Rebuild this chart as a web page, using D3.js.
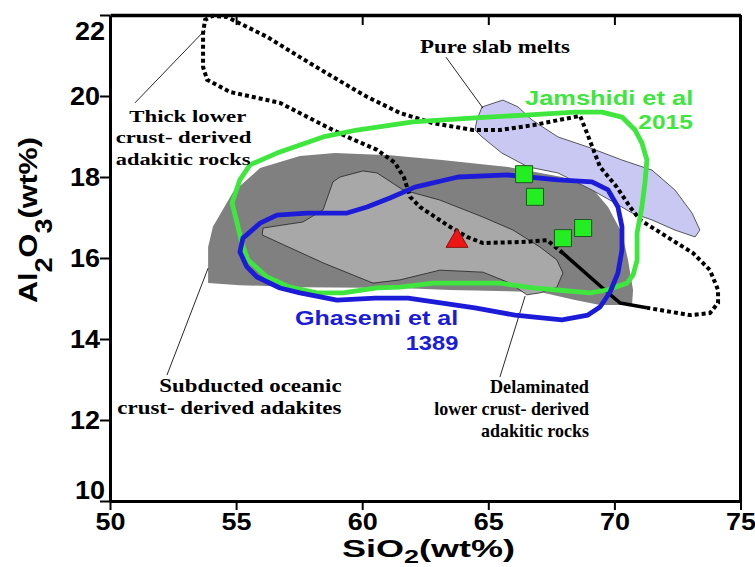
<!DOCTYPE html>
<html>
<head>
<meta charset="utf-8">
<script src="https://cdn.jsdelivr.net/npm/d3@7"></script>
<style>
  html, body { margin: 0; padding: 0; background: #fff; }
  svg { display: block; }
</style>
</head>
<body>
<svg id="chart" width="755" height="567"></svg>
<script>
// SiO2 vs Al2O3 discrimination fields for adakitic rocks (wt%)

const xTicks = [50, 55, 60, 65, 70, 75];
const yTicks = [10, 12, 14, 16, 18, 20, 22];

// Subducted oceanic crust-derived adakites (dark grey field)
const subductedField = [[53.89,15.38],[53.89,16.27],[54.08,16.77],[54.88,17.63],[55.95,18.22],[57.53,18.52],[58.92,18.59],[61.10,18.54],[63.16,18.42],[65.78,18.25],[67.92,18.0],[69.11,17.73],[69.75,17.26],[70.30,16.62],[70.54,15.95],[70.74,15.21],[70.70,14.84],[69.43,14.84],[68.44,14.96],[67.05,15.16],[63.48,15.21],[61.50,15.26],[57.53,15.28],[55.15,15.33]];

// Delaminated lower crust-derived adakitic rocks (light grey field)
const delaminatedField = [[56.03,16.57],[56.07,16.74],[57.65,16.89],[58.45,17.19],[58.84,17.88],[59.12,18.0],[60.03,18.15],[60.59,18.10],[61.62,17.68],[63.08,17.43],[64.79,17.01],[65.98,16.69],[67.05,16.27],[67.72,15.95],[67.96,15.63],[67.72,15.28],[67.05,15.14],[66.53,15.09],[65.86,15.38],[64.79,15.65],[63.08,15.70],[61.50,15.46],[60.43,15.38],[58.45,15.88]];

// Pure slab melts (lavender field)
const slabMeltField = [[64.75,19.73],[65.58,19.90],[66.18,19.73],[66.73,19.41],[67.76,18.99],[68.95,18.74],[70.30,18.42],[71.49,18.17],[72.40,17.68],[73.08,17.11],[73.39,16.69],[73.20,16.52],[72.40,16.69],[71.49,16.94],[70.70,17.11],[70.02,17.36],[69.11,17.68],[67.76,18.10],[66.57,18.25],[65.54,18.59],[64.75,18.99],[64.47,19.16],[64.55,19.41]];

// Thick lower crust-derived adakitic rocks: dotted outline and its solid closing segment
const thickCrustDotted = [[67.96,16.12],[67.33,16.44],[66.53,16.40],[64.79,16.37],[64.16,16.52],[63.48,16.77],[62.29,17.26],[61.90,17.51],[61.66,17.98],[61.30,18.35],[60.59,18.67],[59.52,18.96],[58.84,19.16],[56.74,19.83],[54.76,20.10],[53.85,20.40],[53.69,20.72],[53.69,21.56],[53.77,21.88],[54.08,21.98],[54.64,21.95],[56.23,21.46],[57.53,20.96],[58.84,20.47],[60.19,19.98],[61.50,19.58],[62.81,19.33],[64.39,19.16],[65.46,19.16],[66.77,19.28],[68.64,19.51],[68.91,19.09],[69.43,18.25],[70.10,17.75],[70.62,17.26],[71.02,16.94],[72.09,16.52],[73.12,16.12],[73.79,15.70],[74.11,15.21],[74.11,14.89],[73.79,14.64],[73.0,14.59],[71.29,14.77]];
const thickCrustSolid = [[67.96,16.12],[69.71,15.16],[70.22,14.89],[71.29,14.77]];

// Jamshidi et al (2015) outline
const jamshidiOutline = [[55.55,18.30],[56.62,18.59],[58.45,18.99],[59.79,19.16],[62.01,19.36],[64.47,19.46],[66.46,19.53],[68.44,19.60],[69.51,19.60],[70.30,19.48],[70.82,19.16],[71.09,18.84],[71.29,18.42],[71.21,17.85],[71.09,17.26],[70.90,16.62],[70.90,15.95],[70.74,15.58],[70.50,15.38],[69.71,15.21],[69.03,15.14],[67.72,15.21],[66.77,15.26],[65.46,15.38],[64.16,15.38],[62.81,15.38],[61.50,15.28],[60.59,15.26],[59.24,15.14],[58.21,15.14],[57.14,15.28],[56.23,15.53],[55.47,15.95],[55.23,16.37],[55.04,16.86],[54.84,17.36],[55.15,17.93]];

// Ghasemi et al (1389) outline
const ghasemiOutline = [[56.62,17.06],[57.81,17.11],[59.40,17.11],[60.19,17.26],[61.10,17.48],[62.09,17.75],[63.80,18.0],[65.78,18.05],[67.76,17.93],[69.11,17.88],[69.75,17.68],[70.14,17.26],[70.30,16.77],[70.30,16.20],[70.14,15.63],[69.83,15.16],[69.43,14.79],[68.95,14.59],[67.92,14.47],[66.06,14.59],[64.47,14.77],[61.82,15.01],[60.51,15.01],[59.0,14.96],[57.53,15.14],[56.74,15.26],[55.83,15.53],[55.43,15.78],[55.15,16.15],[55.27,16.49],[55.95,16.86]];

// Samples
const squareSamples = [[66.42,18.07],[66.85,17.51],[67.96,16.49],[68.76,16.74]];
const triangleSamples = [[63.76,16.42]];

// Leader lines from field labels to their fields [from, to]
const leaders = [
  [[50.99,19.83],[53.77,21.63]],
  [[63.32,20.96],[64.79,19.70]],
  [[52.26,13.11],[53.89,15.75]],
  [[65.46,13.06],[66.46,15.06]]
];

const SERIF = '"Liberation Serif","Times New Roman",serif';
const SANS = '"Liberation Sans",Arial,sans-serif';
const GREEN = '#3ee63e';
const BLUE = '#1c1cd8';

const svg = d3.select('#chart');
svg.append('rect').attr('width', 755).attr('height', 567).attr('fill', '#fff');

const x = d3.scaleLinear().domain([50, 75]).range([110, 740.5]);
const y = d3.scaleLinear().domain([10, 22]).range([501, 15]);

const line = d3.line().x(d => x(d[0])).y(d => y(d[1]));
const closed = d3.line().x(d => x(d[0])).y(d => y(d[1])).curve(d3.curveLinearClosed);

const plot = svg.append('g');

plot.append('path').attr('d', closed(subductedField)).attr('fill', '#808080');
plot.append('path').attr('d', closed(delaminatedField)).attr('fill', '#a8a8a8')
  .attr('stroke', '#222').attr('stroke-width', 0.8);
plot.append('path').attr('d', closed(slabMeltField)).attr('fill', '#c8c8f2')
  .attr('stroke', '#333').attr('stroke-width', 0.8);

// leader lines
plot.selectAll('line.leader').data(leaders).join('line')
  .attr('class', 'leader')
  .attr('x1', d => x(d[0][0])).attr('y1', d => y(d[0][1]))
  .attr('x2', d => x(d[1][0])).attr('y2', d => y(d[1][1]))
  .attr('stroke', '#111').attr('stroke-width', 0.9);

plot.append('path').attr('d', line(thickCrustDotted)).attr('fill', 'none')
  .attr('stroke', '#000').attr('stroke-width', 4).attr('stroke-dasharray', '4,3');
plot.append('path').attr('d', line(thickCrustSolid)).attr('fill', 'none')
  .attr('stroke', '#000').attr('stroke-width', 3.5).attr('stroke-linejoin', 'round');

plot.append('path').attr('d', closed(jamshidiOutline)).attr('fill', 'none')
  .attr('stroke', GREEN).attr('stroke-width', 4.8).attr('stroke-linejoin', 'round');
plot.append('path').attr('d', closed(ghasemiOutline)).attr('fill', 'none')
  .attr('stroke', BLUE).attr('stroke-width', 4.8).attr('stroke-linejoin', 'round');

// sample symbols
plot.selectAll('path.sq').data(squareSamples).join('path')
  .attr('class', 'sq')
  .attr('d', d3.symbol(d3.symbolSquare, 290)())
  .attr('transform', d => `translate(${x(d[0])},${y(d[1])})`)
  .attr('fill', '#22ee22').attr('stroke', '#225522').attr('stroke-width', 1);
plot.selectAll('path.tri').data(triangleSamples).join('path')
  .attr('class', 'tri')
  .attr('d', d3.symbol(d3.symbolTriangle, 210)())
  .attr('transform', d => `translate(${x(d[0])},${y(d[1])})`)
  .attr('fill', '#ee1515').attr('stroke', '#881111').attr('stroke-width', 1);

// axes
const axes = svg.append('g');
const gx = axes.append('g').attr('transform', `translate(0,${y(10)})`)
  .call(d3.axisBottom(x).tickValues(xTicks).tickSize(9).tickSizeOuter(0).tickFormat(d3.format('d')));
const gy = axes.append('g').attr('transform', `translate(${x(50)},0)`)
  .call(d3.axisLeft(y).tickValues(yTicks).tickSize(10).tickSizeOuter(0).tickFormat(d3.format('d')));
const gt = axes.append('g').attr('transform', `translate(0,${y(22)})`)
  .call(d3.axisTop(x).tickValues([55, 60, 65, 70]).tickSize(-10).tickSizeOuter(0).tickFormat(''));
axes.append('line').attr('x1', x(75)).attr('x2', x(75)).attr('y1', y(22)).attr('y2', y(10))
  .attr('stroke', '#000').attr('stroke-width', 3);

axes.selectAll('.domain').attr('stroke', '#000').attr('stroke-width', 3);
gt.select('.domain').attr('stroke-width', 3.5);
axes.selectAll('.tick line').attr('stroke', '#000').attr('stroke-width', 2);

gx.selectAll('.tick text')
  .attr('y', 29).attr('dy', 0)
  .attr('font-family', SANS).attr('font-weight', 'bold').attr('font-size', 24).attr('fill', '#000')
  .attr('textLength', 30).attr('lengthAdjust', 'spacingAndGlyphs');
gy.selectAll('.tick text')
  .attr('x', d => (d === 22 || d === 10) ? -5 : -10)
  .attr('dy', d => d === 22 ? '24' : d === 10 ? '-3' : '0.33em')
  .attr('font-family', SANS).attr('font-weight', 'bold').attr('font-size', 25).attr('fill', '#000')
  .attr('textLength', 30).attr('lengthAdjust', 'spacingAndGlyphs');

// text helper: places a text so that its ink width matches a given span
function label(parts, opt) {
  const g = svg.append('g');
  const t = g.append('text')
    .attr('font-family', opt.family).attr('font-weight', 'bold')
    .attr('font-size', opt.size).attr('fill', opt.color || '#000');
  parts.forEach(p => {
    const s = t.append('tspan').text(p.t);
    if (p.sub) s.attr('font-size', p.sub.size).attr('dy', p.sub.dy);
    if (p.back) s.attr('dy', p.back);
  });
  const w = t.node().getBBox().width;
  const k = opt.width / w;
  g.attr('transform', `translate(${opt.x},${opt.y})` + (opt.rotate ? ` rotate(${opt.rotate})` : '') + ` scale(${k},1)`);
  return g;
}

// field labels
[
  ['Thick lower', 129.3, 121.7, 117.4, 17.5],
  ['crust- derived', 115.7, 143.3, 136, 17.5],
  ['adakitic rocks', 115.7, 165, 135, 17.5],
  ['Pure slab melts', 420, 52.5, 150, 19],
  ['Subducted oceanic', 159.3, 392.3, 182.4, 19],
  ['crust- derived adakites', 117.3, 414.3, 224.4, 19],
  ['Delaminated', 490, 393.3, 99, 18],
  ['lower crust- derived', 434.3, 415, 154.7, 18],
  ['adakitic rocks', 481, 436.7, 108, 18]
].forEach(([s, lx, ly, w, fs]) => label([{t: s}], {family: SERIF, size: fs, x: lx, y: ly, width: w}));

label([{t: 'Jamshidi et al'}], {family: SANS, size: 20, x: 525, y: 105, width: 168.3, color: GREEN});
label([{t: '2015'}], {family: SANS, size: 21, x: 638.3, y: 129.3, width: 55, color: GREEN});
label([{t: 'Ghasemi et al'}], {family: SANS, size: 21, x: 295, y: 325, width: 163.3, color: BLUE});
label([{t: '1389'}], {family: SANS, size: 21, x: 405.7, y: 350, width: 52.6, color: BLUE});

// axis titles
label([{t: 'SiO'}, {t: '2', sub: {size: 18, dy: 6}}, {t: '(wt%)', back: -6}],
  {family: SANS, size: 24, x: 342, y: 557, width: 173});
label([{t: 'Al'}, {t: '2', sub: {size: 23, dy: 15}}, {t: 'O', back: -15}, {t: '3', sub: {size: 23, dy: 15}}, {t: '(wt%)', back: -15}],
  {family: SANS, size: 26, x: 37, y: 303, width: 166, rotate: -90});
</script>
</body>
</html>
